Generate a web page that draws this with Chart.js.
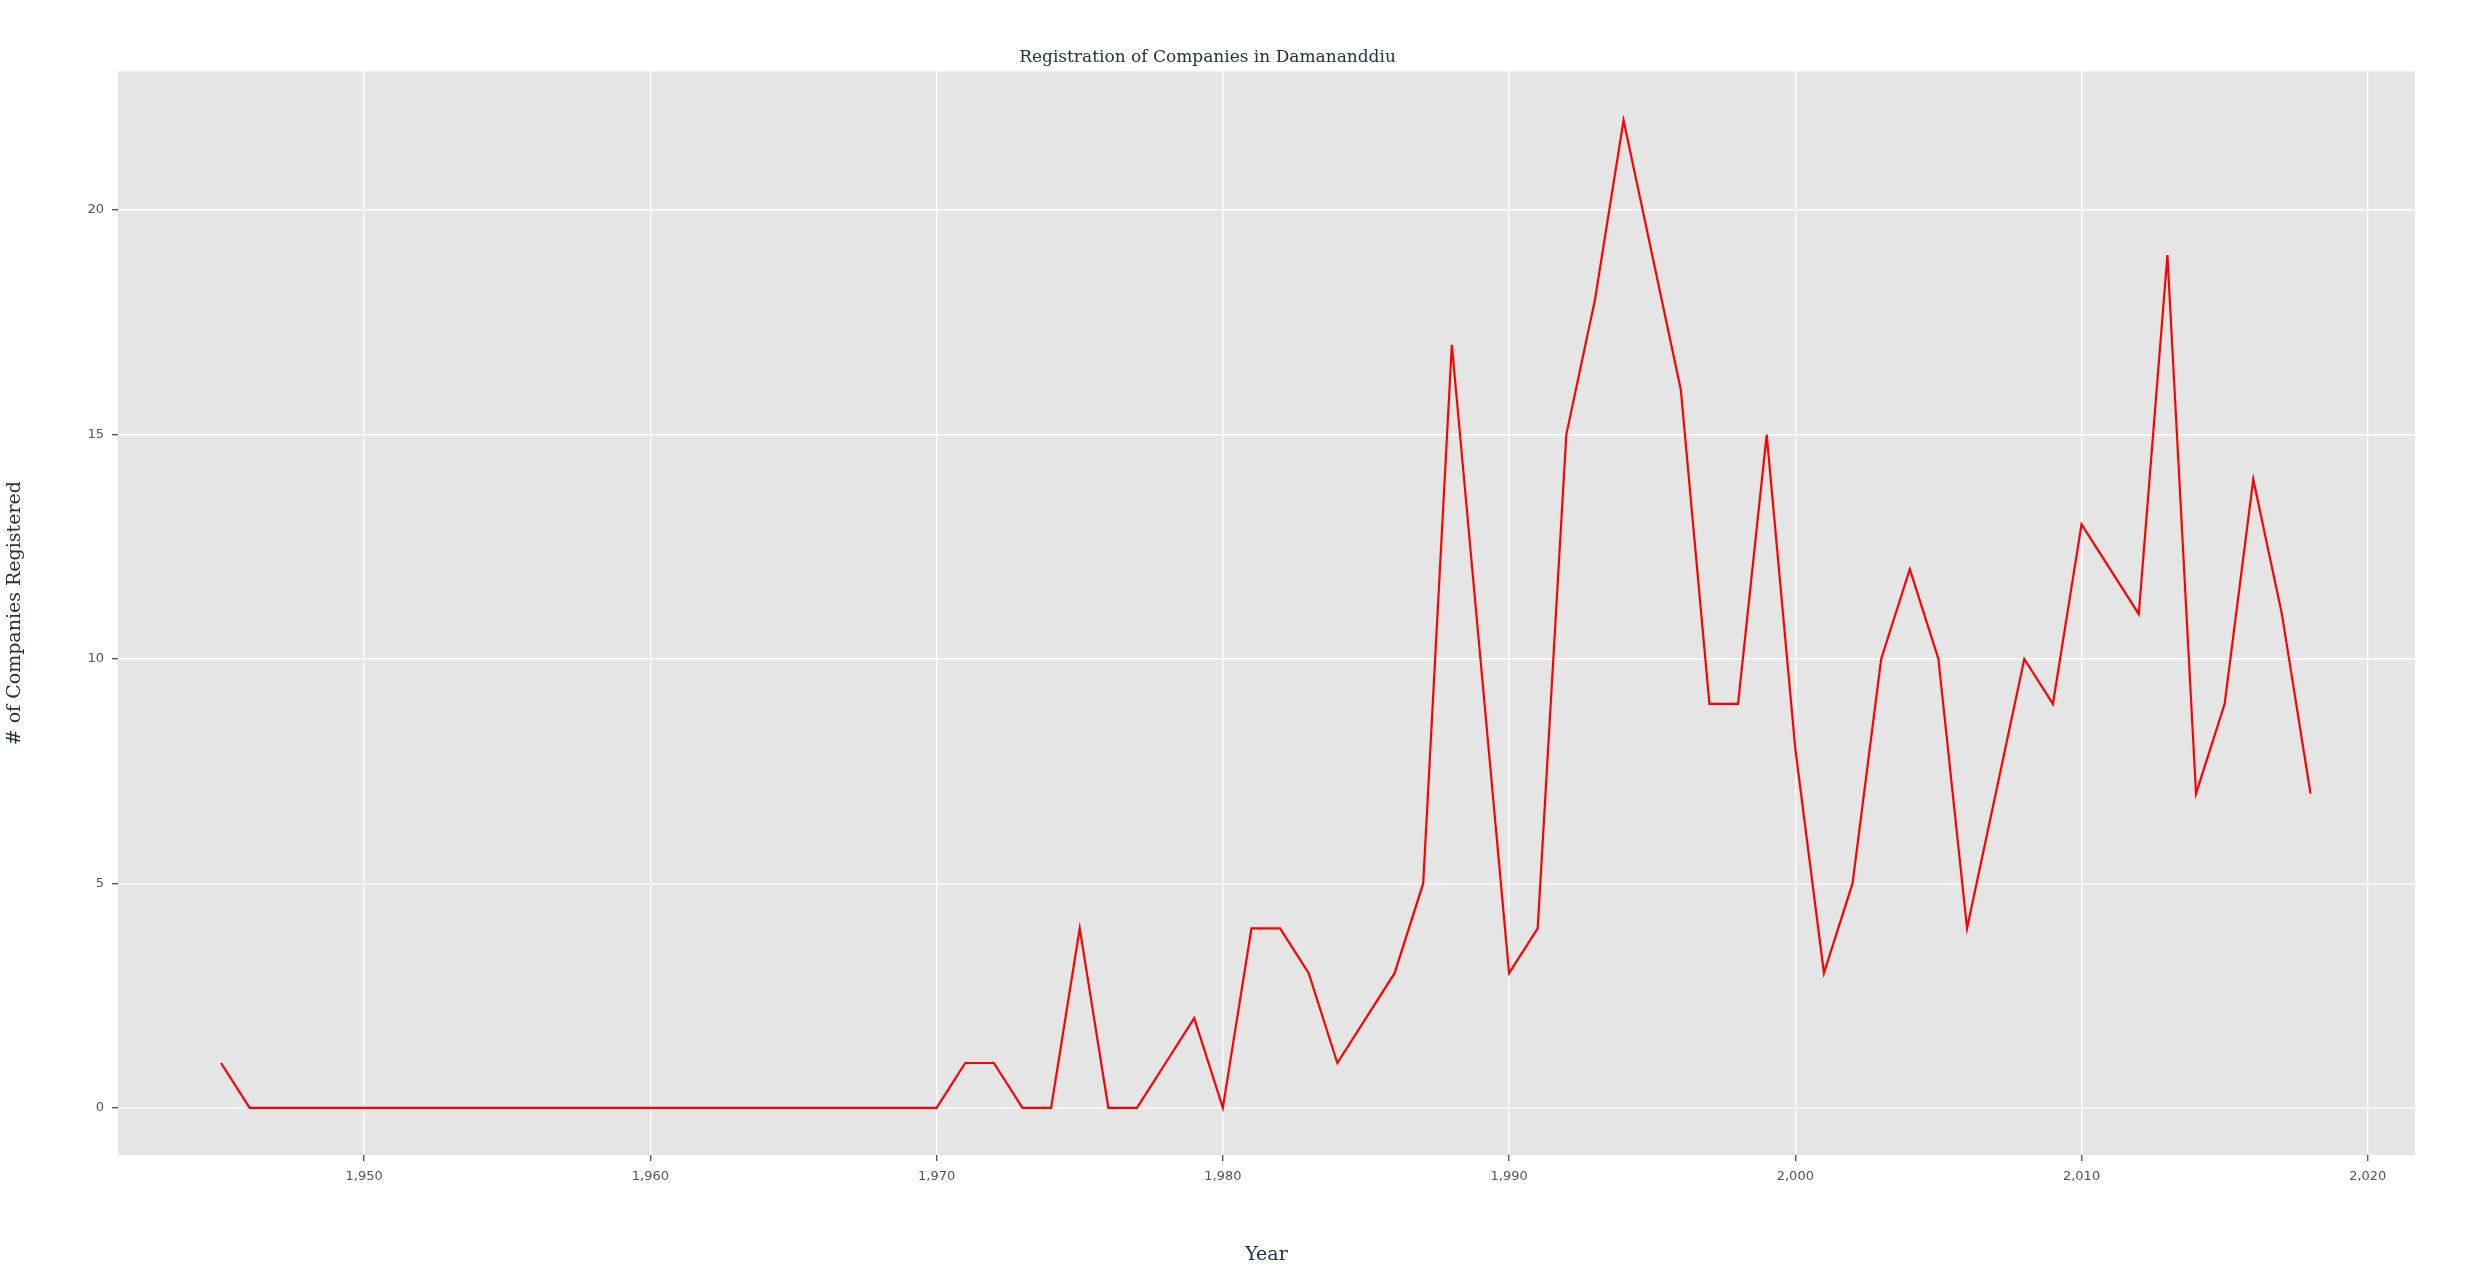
<!DOCTYPE html>
<html>
<head>
<meta charset="utf-8">
<script src="https://cdn.jsdelivr.net/npm/chart.js@4/dist/chart.umd.min.js"></script>
<style>
  html, body { margin: 0; padding: 0; background: #fff; }
  #wrap { width: 2470px; height: 1270px; }
</style>
</head>
<body>
<div id="wrap"><canvas id="chart"></canvas></div>
<script>
const years = [];
for (let y = 1945; y <= 2018; y++) years.push(y);
const registered = [
  1, 0, 0, 0, 0, 0, 0, 0, 0, 0,      // 1945-1954
  0, 0, 0, 0, 0, 0, 0, 0, 0, 0,      // 1955-1964
  0, 0, 0, 0, 0, 0, 1, 1, 0, 0,      // 1965-1974
  4, 0, 0, 1, 2, 0, 4, 4, 3, 1,      // 1975-1984
  2, 3, 5, 17, 10, 3, 4, 15, 18, 22, // 1985-1994
  19, 16, 9, 9, 15, 8, 3, 5, 10, 12, // 1995-2004
  10, 4, 7, 10, 9, 13, 12, 11, 19, 7, // 2005-2014
  9, 14, 11, 7                       // 2015-2018
];
const xTicks = [1950, 1960, 1970, 1980, 1990, 2000, 2010, 2020];
const yTicks = [0, 5, 10, 15, 20];

const bgPlugin = {
  id: 'bg',
  beforeDraw(chart) {
    const { ctx, chartArea: a } = chart;
    ctx.save();
    ctx.fillStyle = '#e5e5e5';
    ctx.fillRect(a.left, a.top, a.right - a.left, a.bottom - a.top);
    ctx.restore();
  }
};

new Chart(document.getElementById('chart').getContext('2d'), {
  type: 'line',
  data: {
    datasets: [{
      data: years.map((y, i) => ({ x: y, y: registered[i] })),
      borderColor: '#ff0000',
      borderWidth: 2.2,
      pointRadius: 0,
      tension: 0
    }]
  },
  options: {
    responsive: true,
    maintainAspectRatio: false,
    animation: false,
    layout: { padding: { right: 55, left: 0, bottom: 0, top: 0 } },
    plugins: {
      legend: { display: false },
      tooltip: { enabled: false },
      title: {
        display: true,
        text: 'Registration of Companies in Damananddiu',
        color: '#223344',
        font: { family: 'DejaVu Serif', size: 17, weight: 'normal' },
        padding: { top: 47, bottom: 4 }
      }
    },
    scales: {
      x: {
        type: 'linear',
        min: 1941.4,
        max: 2021.65,
        afterBuildTicks(s) { s.ticks = xTicks.map(v => ({ value: v })); },
        afterFit(s) { s.height = 115; },
        ticks: { color: '#555', font: { family: 'DejaVu Sans', size: 13 }, padding: 8, maxRotation: 0 },
        grid: { color: '#ffffff', lineWidth: 1.4, tickColor: '#555', tickLength: 6, drawTicks: true },
        border: { display: false },
        title: { display: true, text: 'Year', color: '#223344', font: { family: 'DejaVu Serif', size: 19 }, padding: { top: 18 } }
      },
      y: {
        min: -1.05,
        max: 23.09,
        afterBuildTicks(s) { s.ticks = yTicks.map(v => ({ value: v })); },
        afterFit(s) { s.width = 118; },
        ticks: { color: '#555', font: { family: 'DejaVu Sans', size: 13 }, padding: 8 },
        grid: { color: '#ffffff', lineWidth: 1.4, tickColor: '#555', tickLength: 6 },
        border: { display: false },
        title: { display: true, text: '# of Companies Registered', color: '#223344', font: { family: 'DejaVu Serif', size: 19 }, padding: { bottom: 14 } }
      }
    }
  },
  plugins: [bgPlugin]
});
</script>
</body>
</html>
